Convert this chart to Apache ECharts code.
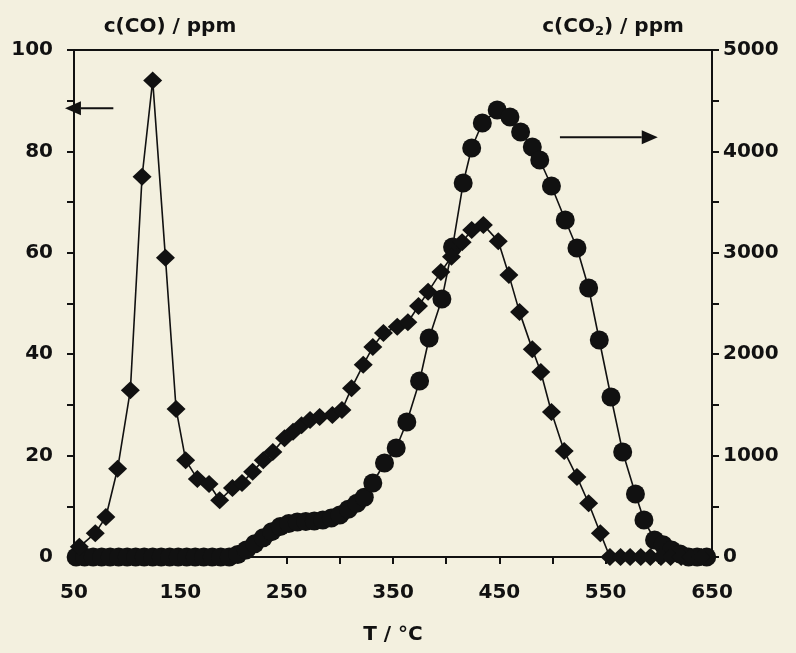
<!DOCTYPE html>
<html>
<head>
<meta charset="utf-8">
<script src="https://cdn.jsdelivr.net/npm/echarts@6/dist/echarts.min.js"></script>
<style>
  html, body { margin: 0; padding: 0; background: #f3f0df; }
  #chart { width: 796px; height: 653px; }
</style>
</head>
<body>
<div id="chart"></div>
<script>
// CO concentration (left axis), diamonds
const coTemp = [55, 70, 80, 91, 103, 114, 124, 136, 146, 155, 166, 177, 187, 199, 208, 218, 228, 237, 248, 256, 264, 272, 281, 293, 302, 311, 322, 331, 341, 354, 364, 374, 383, 395, 405, 415, 424, 435, 449, 459, 469, 481, 489, 499, 511, 523, 534, 545, 554, 564, 573, 583, 592, 602, 611, 621, 630, 640];
const coValue = [2.0, 4.7, 7.9, 17.4, 32.9, 75, 94, 59, 29.2, 19.1, 15.4, 14.4, 11.2, 13.6, 14.6, 16.8, 19.1, 20.7, 23.4, 24.7, 26, 27, 27.6, 28, 29, 33.3, 37.9, 41.4, 44.2, 45.4, 46.3, 49.5, 52.3, 56.2, 59.2, 62.1, 64.5, 65.5, 62.3, 55.6, 48.3, 41, 36.5, 28.6, 20.9, 15.8, 10.6, 4.7, 0, 0, 0, 0, 0, 0, 0, 0, 0, 0];

// CO2 concentration (right axis), circles
const co2Temp = [52, 60, 68, 76, 84, 92, 100, 108, 116, 124, 132, 140, 148, 156, 164, 172, 180, 188, 196, 204, 212, 220, 228, 236, 244, 252, 260, 268, 276, 284, 292, 300, 308, 316, 323, 331, 342, 353, 363, 375, 384, 396, 406, 416, 424, 434, 448, 460, 470, 481, 488, 499, 512, 523, 534, 544, 555, 566, 578, 586, 596, 604, 612, 620, 628, 636, 645];
const co2Value = [0, 0, 0, 0, 0, 0, 0, 0, 0, 0, 0, 0, 0, 0, 0, 0, 0, 0, 0, 25, 70, 130, 190, 250, 300, 330, 345, 350, 355, 365, 385, 415, 470, 530, 590, 730, 927, 1075, 1331, 1736, 2160, 2544, 3057, 3688, 4034, 4280, 4408, 4339, 4191, 4043, 3915, 3659, 3323, 3047, 2653, 2140, 1578, 1036, 621, 365, 168, 120, 70, 30, 0, 0, 0];

// Axis tick positions and labels
const xTicks = [50, 100, 150, 200, 250, 300, 350, 400, 450, 500, 550, 600, 650];
const xLabels = [50, 150, 250, 350, 450, 550, 650];
const coTicks = [0, 10, 20, 30, 40, 50, 60, 70, 80, 90, 100];
const coLabels = [0, 20, 40, 60, 80, 100];
const co2Ticks = [0, 500, 1000, 1500, 2000, 2500, 3000, 3500, 4000, 4500, 5000];
const co2Labels = [0, 1000, 2000, 3000, 4000, 5000];

// Direction arrows (data coordinates): which axis each curve belongs to
const coArrow = { from: [87, 88.5], to: [41.5, 88.5] };
const co2Arrow = { from: [507, 4140], to: [599, 4140] };

const zip = (a, b) => a.map((v, i) => [v, b[i]]);

const FONT = '"DejaVu Sans", "Liberation Sans", Arial, sans-serif';
const INK = '#111';
const labelStyle = { color: INK, fontFamily: FONT, fontWeight: 'bold', fontSize: 20 };
const axisLine = { show: true, lineStyle: { color: INK, width: 2 } };
const tickStyle = { color: INK, width: 2 };

const chart = echarts.init(document.getElementById('chart'), null, { renderer: 'canvas' });

chart.setOption({
  animation: false,
  backgroundColor: '#f3f0df',
  grid: { left: 74, right: 84, top: 50, bottom: 96, show: true, borderColor: INK, borderWidth: 2, backgroundColor: 'transparent' },
  xAxis: {
    type: 'value', min: 50, max: 650,
    name: 'T / °C', nameLocation: 'middle', nameGap: 68,
    nameTextStyle: Object.assign({}, labelStyle),
    axisLine: axisLine,
    axisTick: { show: true, customValues: xTicks, length: 7, lineStyle: tickStyle },
    axisLabel: Object.assign({ customValues: xLabels, margin: 26 }, labelStyle),
    splitLine: { show: false }
  },
  yAxis: [
    {
      type: 'value', min: 0, max: 100, position: 'left',
      axisLine: axisLine,
      axisTick: { show: true, customValues: coTicks, length: 7, lineStyle: tickStyle },
      axisLabel: Object.assign({ customValues: coLabels, margin: 21 }, labelStyle),
      splitLine: { show: false }
    },
    {
      type: 'value', min: 0, max: 5000, position: 'right',
      axisLine: axisLine,
      axisTick: { show: true, customValues: co2Ticks, length: 7, lineStyle: tickStyle },
      axisLabel: Object.assign({ customValues: co2Labels, margin: 11, formatter: v => String(v) }, labelStyle),
      splitLine: { show: false }
    }
  ],
  series: [
    {
      name: 'CO', type: 'line', xAxisIndex: 0, yAxisIndex: 0,
      data: zip(coTemp, coValue),
      symbol: 'diamond', symbolSize: [19, 18], showAllSymbol: true, clip: false,
      itemStyle: { color: INK },
      lineStyle: { color: INK, width: 1.6 },
      emphasis: { disabled: true },
      z: 3
    },
    {
      name: 'CO2', type: 'line', xAxisIndex: 0, yAxisIndex: 1,
      data: zip(co2Temp, co2Value),
      symbol: 'circle', symbolSize: 19, showAllSymbol: true, clip: false,
      itemStyle: { color: INK },
      lineStyle: { color: INK, width: 1.6 },
      emphasis: { disabled: true },
      z: 2
    }
  ]
});

// Arrow = shaft + solid triangular head, positioned through the axis scales
function arrowGraphics(arrow, yAxisIndex) {
  const finder = { xAxisIndex: 0, yAxisIndex: yAxisIndex };
  const p0 = chart.convertToPixel(finder, arrow.from);
  const p1 = chart.convertToPixel(finder, arrow.to);
  const dir = Math.sign(p1[0] - p0[0]);
  const headLen = 16, headHalf = 7;
  const base = p1[0] - dir * headLen;
  return [
    { type: 'line', silent: true, z: 10, shape: { x1: p0[0], y1: p0[1], x2: base, y2: p1[1] }, style: { stroke: INK, lineWidth: 2 } },
    { type: 'polygon', silent: true, z: 10, shape: { points: [[p1[0], p1[1]], [base, p1[1] - headHalf], [base, p1[1] + headHalf]] }, style: { fill: INK } }
  ];
}

chart.setOption({
  graphic: [
    {
      type: 'text', x: 170, y: 27,
      style: { text: 'c(CO) / ppm', fill: INK, font: 'bold 20px ' + FONT, textAlign: 'center', textVerticalAlign: 'middle' }
    },
    {
      type: 'text', x: 613, y: 27,
      style: {
        text: 'c(CO{sub|2}) / ppm', fill: INK, font: 'bold 20px ' + FONT, textAlign: 'center', textVerticalAlign: 'middle',
        rich: { sub: { fontSize: 13, fontWeight: 'bold', fontFamily: FONT, fill: INK, padding: [9, 0, 0, 0] } }
      }
    }
  ].concat(arrowGraphics(coArrow, 0), arrowGraphics(co2Arrow, 1))
});
</script>
</body>
</html>
